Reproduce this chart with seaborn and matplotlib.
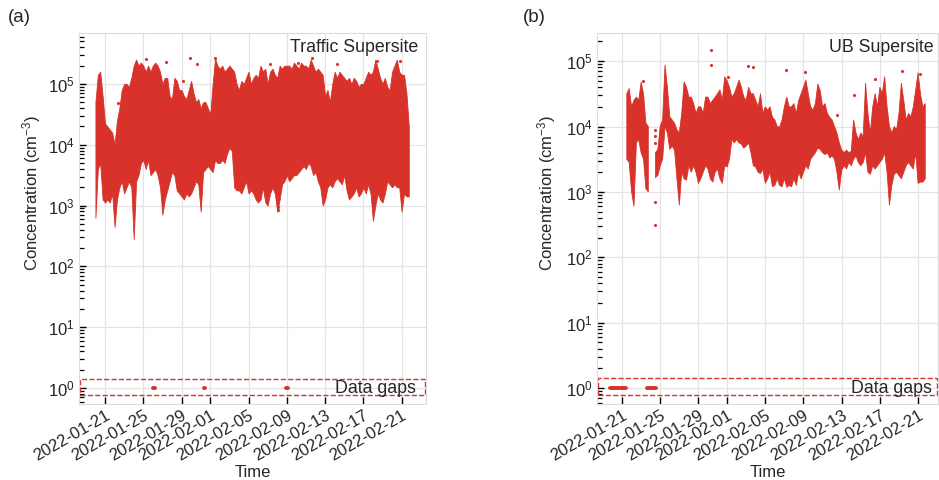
import numpy as np
import pandas as pd
import matplotlib
matplotlib.use('Agg')
import matplotlib.pyplot as plt
import matplotlib.dates as mdates
import matplotlib.transforms as mtrans
from matplotlib.ticker import LogLocator, NullFormatter
import seaborn as sns

red = '#d8322b'

# Traffic Supersite: 6-hourly upper / lower envelope, log10(cm-3), from 2022-01-20 00:00
hi_a = [4.7, 5.15, 5.2, 4.8,   4.35, 4.3, 4.25, 4.2,   4.0, 4.4, 4.6, 4.9,
        5.0, 5.0, 4.95, 5.1,   5.3, 5.4, 5.3, 5.35,    5.3, 5.2, 5.3, 5.2,
        5.3, 5.35, 5.3, 5.2,   5.0, 5.1, 5.1, 4.8,     4.75, 5.1, 5.05, 4.9,
        4.9, 4.8, 4.75, 4.9,   5.05, 4.85, 4.7, 4.75,  4.6, 4.7, 4.7, 4.6,
        4.5, 5.0, 5.42, 5.3,   5.25, 5.3, 5.2, 5.25,   5.3, 5.25, 5.2, 5.0,
        4.9, 5.05, 5.0, 5.1,   5.2, 5.0, 5.1, 5.15,    5.1, 5.3, 5.2, 5.25,
        5.0, 5.2, 5.25, 5.15,  5.1, 5.3, 5.25, 5.3,    5.3, 5.3, 5.25, 5.35,
        5.3, 5.25, 5.35, 5.3,  5.3, 5.25, 5.4, 5.3,    5.2, 5.25, 5.2, 5.15,
        4.8, 4.9, 4.7, 5.0,    5.2, 5.1, 5.2, 5.15,    5.1, 5.05, 5.1, 5.0,
        5.1, 5.05, 4.95, 5.0,  5.0, 5.1, 5.2, 5.15,    5.2, 5.4, 5.25, 5.1,
        5.0, 5.1, 4.95, 4.9,   5.2, 5.3, 5.4, 5.2,     5.15, 5.15, 4.85, 4.3]
lo_a = [2.8, 3.6, 3.7, 3.1,    3.05, 3.1, 3.05, 3.2,   2.65, 3.1, 3.3, 3.4,
        3.2, 3.3, 3.4, 3.3,    2.45, 3.4, 3.5, 3.7,    3.75, 3.6, 3.75, 3.5,
        3.55, 3.6, 3.5, 3.3,   2.85, 3.1, 3.25, 3.4,   3.55, 3.5, 3.25, 3.2,
        3.15, 3.1, 3.2, 3.15,  3.2, 3.3, 3.4, 3.35,    2.9, 3.55, 3.6, 3.65,
        3.6, 3.55, 3.75, 3.7,  3.7, 3.75, 3.7, 3.85,   3.95, 3.9, 3.3, 3.25,
        3.25, 3.2, 3.3, 3.4,   3.2, 3.25, 3.2, 3.1,    3.05, 3.1, 3.3, 3.05,
        3.0, 3.2, 3.3, 3.2,    2.9, 3.1, 3.35, 3.4,    3.5, 3.4, 3.45, 3.5,
        3.5, 3.55, 3.6, 3.65,  3.6, 3.7, 3.65, 3.5,    3.55, 3.4, 3.3, 3.0,
        3.1, 3.3, 3.35, 3.3,   3.4, 3.45, 3.4, 3.35,   3.5, 3.25, 3.1, 3.15,
        3.2, 3.3, 3.15, 3.2,   3.3, 3.2, 3.35, 3.2,    2.75, 3.0, 3.2, 3.1,
        3.05, 3.2, 3.4, 3.35,  3.3, 3.35, 3.3, 3.3,    2.9, 3.2, 3.15, 3.15]

# UB Supersite: 6-hourly envelope from 2022-01-21 12:00 (nan = no data)
hi_b = [4.5, 4.58, 4.3, 4.4,   4.45, 4.4, 4.68, 4.5,   4.05, 4.0, np.nan, np.nan,
        3.6, 3.65, 4.0, 4.1,   4.94, 4.6, 4.15, 4.1,   4.05, 3.95, 3.9, 4.2,
        4.68, 4.6, 4.45, 4.45, 4.35, 4.2, 4.3, 4.3,    4.2, 4.45, 4.45, 4.35,
        4.4, 4.45, 4.5, 4.56,  4.4, 4.76, 4.7, 4.6,    4.45, 4.5, 4.6, 4.71,
        4.6, 4.45, 4.4, 4.6,   4.5, 4.5, 4.4, 4.3,     4.5, 4.2, 4.3, 4.25,
        4.3, 4.14, 4.1, 4.0,   3.99, 4.1, 4.3, 4.45,   4.3, 4.3, 4.35, 4.2,
        4.4, 4.5, 4.6, 4.71,   4.5, 4.3, 4.25, 4.35,   4.65, 4.55, 4.3, 4.35,
        4.2, 4.14, 4.1, 4.0,   3.9, 3.75, 3.64, 3.6,   3.64, 3.6, 3.62, 4.1,
        3.9, 3.8, 3.9, 3.85,   4.66, 4.2, 3.9, 4.3,    4.5, 4.3, 4.6, 4.5,
        4.76, 4.3, 4.0, 3.9,   4.0, 3.95, 4.2, 4.66,   4.4, 4.1, 4.2, 4.15,
        4.3, 4.56, 4.82, 4.5,  4.3, 4.35]
lo_b = [3.5, 3.45, 3.0, 2.78,  3.75, 3.8, 3.6, 3.5,    3.05, 3.0, np.nan, np.nan,
        3.22, 3.25, 3.4, 3.5,  4.0, 3.9, 3.65, 3.7,    3.64, 3.2, 2.8, 3.3,
        3.2, 3.18, 3.4, 3.3,   3.4, 3.3, 3.13, 3.2,    3.3, 3.4, 3.35, 3.2,
        3.15, 3.3, 3.35, 3.2,  3.13, 3.4, 3.38, 3.5,   3.8, 3.75, 3.8, 3.75,
        3.73, 3.67, 3.7, 3.75, 3.6, 3.4, 3.38, 3.3,    3.28, 3.35, 3.13, 3.2,
        3.3, 3.08, 3.1, 3.2,   3.1, 3.08, 3.2, 3.07,   3.1, 3.08, 3.2, 3.1,
        3.3, 3.2, 3.3, 3.4,    3.35, 3.5, 3.55, 3.6,   3.67, 3.65, 3.6, 3.57,
        3.6, 3.52, 3.55, 3.5,  3.3, 3.03, 3.33, 3.4,   3.35, 3.45, 3.4, 3.5,
        3.55, 3.45, 3.4, 3.45, 3.6, 3.3, 3.27, 3.4,    3.35, 3.4, 3.45, 3.5,
        3.6, 3.3, 2.8, 3.1,    3.27, 3.3, 3.25, 3.2,   3.3, 3.4, 3.45, 3.4,
        3.35, 3.6, 3.13, 3.15, 3.15, 3.2]

# isolated points (day of Jan 2022, log10 value)
out_a_day = [22.4, 24.2, 25.25, 27.35, 29.1, 29.9, 30.6, 32.5, 38.25, 39.1, 39.1, 41.2, 42.6, 45.2, 49.4, 51.85]
out_a_val = [4.69, 5.34, 5.41, 5.36, 5.04, 5.42, 5.32, 5.42, 5.32, 2.92, 2.97, 5.34, 5.42, 5.33, 5.38, 5.38]
out_b_day = [23.2, 24.45, 24.45, 24.45, 24.45, 24.45, 30.3, 30.3, 32.1, 34.2, 34.75, 38.2, 40.2, 43.55, 45.3, 47.5, 50.3, 52.2]
out_b_val = [4.7, 3.95, 3.85, 3.75, 2.85, 2.5, 5.17, 4.94, 4.76, 4.92, 4.91, 4.86, 4.84, 4.17, 4.48, 4.73, 4.85, 4.8]

# data gaps (start / end, day of Jan 2022)
gap_a_start = [26.0, 31.33, 39.9, 40.6]
gap_a_end = [26.25, 31.4, 40.1, 40.66]
gap_b_start = [19.75, 23.6]
gap_b_end = [21.4, 24.55]


def day2time(d):
    return pd.Timestamp('2022-01-01') + pd.to_timedelta(np.asarray(d, dtype=float) - 1, unit='D')


sns.set_style('whitegrid', {'grid.color': '#e4e4e4', 'axes.edgecolor': '#dcdcdc'})
plt.rcParams['font.family'] = ['Liberation Sans', 'DejaVu Sans']
plt.rcParams['mathtext.fontset'] = 'custom'
plt.rcParams['mathtext.rm'] = 'Liberation Sans'
plt.rcParams['mathtext.it'] = 'Liberation Sans:italic'


def draw(ax, start, hi, lo, od, ov, gs, ge, title, xlim, ylim, tx, gx, ylx):
    t = pd.date_range(start, periods=len(hi), freq='6h')
    hi = np.array(hi, dtype=float)
    lo = np.array(lo, dtype=float)
    ax.fill_between(t, 10 ** lo, 10 ** hi, color=red, lw=0.6, edgecolor=red)
    sns.scatterplot(x=day2time(od), y=10 ** np.array(ov), ax=ax, color=red, s=5,
                    linewidth=0, legend=False)
    ax.hlines([1.0] * len(gs), day2time(gs), day2time(ge), color=red, lw=2.8,
              capstyle='round')
    ax.axhspan(0.77, 1.4, xmin=0.004, xmax=0.996, fill=False, ls='--', ec=red, lw=1.0)

    ax.set_yscale('log')
    ax.set_ylim(*ylim)
    ax.set_xlim(day2time(xlim[0]), day2time(xlim[1]))
    ax.yaxis.set_major_locator(LogLocator(base=10, numticks=12))
    ax.yaxis.set_minor_locator(LogLocator(base=10, subs=np.arange(2, 10), numticks=12))
    ax.yaxis.set_minor_formatter(NullFormatter())
    ax.xaxis.set_major_locator(mdates.DayLocator(bymonthday=[1, 5, 9, 13, 17, 21, 25, 29]))
    ax.xaxis.set_major_formatter(mdates.DateFormatter('%Y-%m-%d'))
    ax.tick_params(which='both', direction='in', color='black', left=True, bottom=True,
                   labelsize=12, pad=3)
    ax.tick_params(which='major', length=5, width=1)
    ax.tick_params(which='minor', length=3.5, width=0.9)
    ax.grid(True, which='major', color='#e4e4e4', lw=0.9)
    ax.grid(False, which='minor')
    plt.setp(ax.get_xticklabels(), rotation=30, ha='right', rotation_mode='anchor')

    ax.set_xlabel('Time', fontsize=12, labelpad=1)
    ax.set_ylabel('Concentration (cm$^{-3}$)', fontsize=12)
    ax.yaxis.set_label_coords(ylx, 0.569)
    ax.text(tx, 0.96, title, transform=ax.transAxes, ha='right', va='center', fontsize=12.8)
    trans = mtrans.blended_transform_factory(ax.transAxes, ax.transData)
    ax.text(gx, 1.0, 'Data gaps', transform=trans, ha='right', va='center', fontsize=12.8)


fig = plt.figure(figsize=(9.39, 4.8), dpi=100)
axa = fig.add_axes([0.0841, 0.1583, 0.3695, 0.7729])
axb = fig.add_axes([0.6358, 0.1583, 0.3632, 0.7729])

draw(axa, '2022-01-20 00:00', hi_a, lo_a, out_a_day, out_a_val, gap_a_start, gap_a_end,
     'Traffic Supersite', (18.28, 54.54), (0.547, 6.86e5), 0.977, 0.971, -0.104)
draw(axb, '2022-01-21 12:00', hi_b, lo_b, out_b_day, out_b_val, gap_b_start, gap_b_end,
     'UB Supersite', (18.38, 54.09), (0.57, 2.69e5), 0.988, 0.982, -0.114)

fig.text(8 / 939, 1 - 17 / 480, '(a)', fontsize=13.5, va='center', ha='left')
fig.text(523 / 939, 1 - 17 / 480, '(b)', fontsize=13.5, va='center', ha='left')

fig.savefig('out.png', dpi=100)
